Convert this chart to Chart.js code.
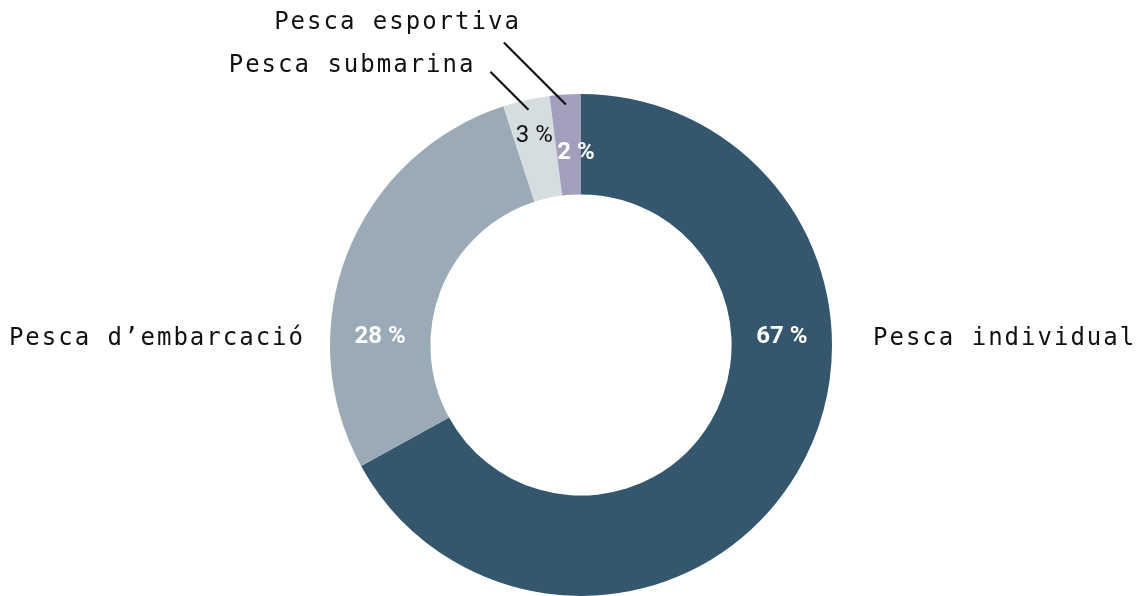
<!DOCTYPE html>
<html>
<head>
<meta charset="utf-8">
<script src="https://cdn.jsdelivr.net/npm/chart.js@4.4.1/dist/chart.umd.min.js"></script>
<style>
  html, body { margin: 0; padding: 0; background: #fff; }
  #wrap { width: 1142px; height: 596px; position: relative; }
</style>
</head>
<body>
<div id="wrap"><canvas id="chartPesca"></canvas></div>
<script>
const categories = ['Pesca individual', "Pesca d\u2019embarcació", 'Pesca submarina', 'Pesca esportiva'];
const shares = [67, 28, 3, 2];
const sliceColors = ['#34576e', '#9aabb7', '#d5dde1', '#a29fbd'];
const pctColors = ['#ffffff', '#ffffff', '#111111', '#ffffff'];

const LABEL_FONT = '"DejaVu Sans Mono", monospace';
const PCT_FONT = 'Roboto, "Noto Sans", sans-serif';

// big slices: value written at the horizontal, name outside; small ones get a leader line
const labelPlugin = {
    id: 'pescaLabels',
    afterDatasetsDraw(chart) {
        const ctx = chart.ctx;
        const arcs = chart.getDatasetMeta(0).data;
        ctx.save();
        arcs.forEach((arc, i) => {
            const { x, y, startAngle, endAngle, innerRadius, outerRadius } = arc.getProps(
                ['x', 'y', 'startAngle', 'endAngle', 'innerRadius', 'outerRadius'], true);
            const mid = (startAngle + endAngle) / 2;
            const midR = (innerRadius + outerRadius) / 2;
            const pct = shares[i] + ' %';
            const big = endAngle - startAngle > Math.PI / 2;

            ctx.fillStyle = pctColors[i];
            ctx.textBaseline = 'middle';
            ctx.textAlign = 'center';
            ctx.letterSpacing = '0px';

            if (big) {
                const side = Math.cos(mid) >= 0 ? 1 : -1;
                ctx.font = 'bold 24px ' + PCT_FONT;
                ctx.fillText(pct, x + side * midR, y - 8);

                ctx.fillStyle = '#111';
                ctx.font = '24px ' + LABEL_FONT;
                ctx.letterSpacing = '2px';
                ctx.textAlign = side > 0 ? 'left' : 'right';
                ctx.fillText(categories[i], x + side * (outerRadius + (side > 0 ? 41 : 25)), y - 6);
            } else {
                const r = i === 2 ? outerRadius - 37 : outerRadius - 59;
                ctx.font = (i === 2 ? '24px ' : 'bold 24px ') + PCT_FONT;
                ctx.fillText(pct, x + Math.cos(mid) * r + (i === 2 ? 0 : 7), y + Math.sin(mid) * r);

                const sx = x + Math.cos(mid) * (outerRadius - 10);
                const sy = y + Math.sin(mid) * (outerRadius - 10);
                const len = i === 2 ? 38 : 62;
                const ex = sx - len;
                const ey = sy - len;
                ctx.strokeStyle = '#111';
                ctx.lineWidth = 2.2;
                ctx.beginPath();
                ctx.moveTo(sx, sy);
                ctx.lineTo(ex, ey);
                ctx.stroke();

                ctx.fillStyle = '#111';
                ctx.font = '24px ' + LABEL_FONT;
                ctx.letterSpacing = '2px';
                ctx.textAlign = 'right';
                if (i === 2) {
                    ctx.fillText(categories[i], ex - 15, ey - 6);
                } else {
                    ctx.fillText(categories[i], ex + 17, ey - 20);
                }
            }
        });
        ctx.restore();
    },
};

new Chart(document.getElementById('chartPesca'), {
    type: 'doughnut',
    data: {
        labels: categories,
        datasets: [{
            data: shares,
            backgroundColor: sliceColors,
            borderWidth: 0,
            hoverOffset: 0,
        }],
    },
    options: {
        responsive: true,
        maintainAspectRatio: false,
        animation: false,
        cutout: '60%',
        layout: { padding: { left: 330, right: 310, top: 94, bottom: 0 } },
        plugins: {
            legend: { display: false },
            tooltip: { enabled: false },
        },
    },
    plugins: [labelPlugin],
});
</script>
</body>
</html>
